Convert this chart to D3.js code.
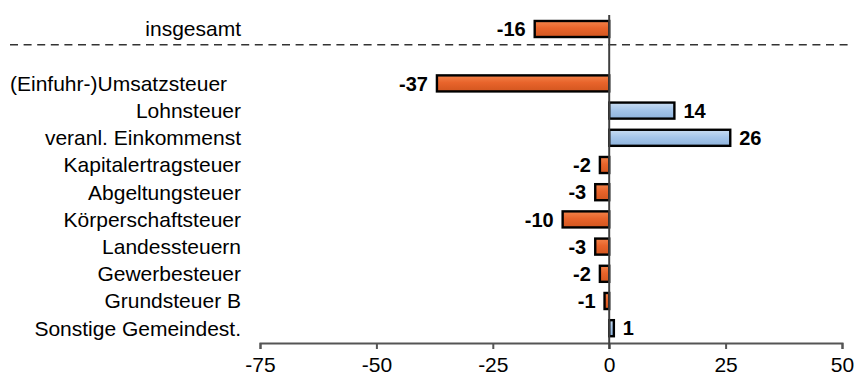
<!DOCTYPE html>
<html>
<head>
<meta charset="utf-8">
<script src="https://cdn.jsdelivr.net/npm/d3@7"></script>
<style>
  html, body { margin: 0; padding: 0; background: #fff; }
  svg { display: block; }
  text { font-family: "Liberation Sans", Arial, sans-serif; fill: #000; }
</style>
</head>
<body>
<svg id="chart" width="855" height="381"></svg>
<script>
// Veränderung gegenüber Vorjahr, nach Steuerarten
const totalCategory = "insgesamt";
const totalValue = -16;

const categories = [
  "(Einfuhr-)Umsatzsteuer",
  "Lohnsteuer",
  "veranl. Einkommenst",
  "Kapitalertragsteuer",
  "Abgeltungsteuer",
  "Körperschaftsteuer",
  "Landessteuern",
  "Gewerbesteuer",
  "Grundsteuer B",
  "Sonstige Gemeindest."
];
const values = [-37, 14, 26, -2, -3, -10, -3, -2, -1, 1];

const xTicks = [-75, -50, -25, 0, 25, 50];

const rows = [{ name: totalCategory, value: totalValue }]
  .concat(categories.map((c, i) => ({ name: c, value: values[i] })));

// plain hyphen-minus for negative numbers
const fmt = v => String(v);

const svg = d3.select("#chart");

// slot list: total row, an empty spacer slot, then the individual taxes
const slots = [totalCategory, "__gap__"].concat(categories);

const x = d3.scaleLinear().domain([-75, 50]).range([260, 842]);
const y = d3.scaleBand().domain(slots).range([15.4, 341.8]).paddingInner(0.41).paddingOuter(0.205);

const defs = svg.append("defs");
function grad(id, stops) {
  const g = defs.append("linearGradient").attr("id", id)
    .attr("x1", 0).attr("y1", 0).attr("x2", 0).attr("y2", 1);
  stops.forEach(([o, c]) => g.append("stop").attr("offset", o).attr("stop-color", c));
}
grad("gNeg", [[0, "#F3834A"], [0.45, "#E8642B"], [1, "#D2561F"]]);
grad("gPos", [[0, "#C9DDF2"], [0.45, "#A6C6EA"], [1, "#8EB3DC"]]);

// dashed separator below the total row
const sepY = y(totalCategory) + y.bandwidth() + y.step() * 0.28;
svg.append("line")
  .attr("x1", 10).attr("x2", 848)
  .attr("y1", sepY).attr("y2", sepY)
  .attr("stroke", "#333").attr("stroke-width", 1.5)
  .attr("stroke-dasharray", "8,5.6");

// bars
svg.append("g").selectAll("rect").data(rows).join("rect")
  .attr("x", d => x(Math.min(0, d.value)))
  .attr("width", d => Math.abs(x(d.value) - x(0)))
  .attr("y", d => y(d.name))
  .attr("height", y.bandwidth())
  .attr("fill", d => d.value < 0 ? "url(#gNeg)" : "url(#gPos)")
  .attr("stroke", "#000").attr("stroke-width", 2.4);

// category labels: right-aligned; a label too long for the label area starts at the left margin
const labelRight = 241, labelLeft = 10;
svg.append("g").selectAll("text").data(rows).join("text")
  .attr("y", d => y(d.name) + y.bandwidth() / 2)
  .attr("dy", "0.35em")
  .style("font-size", "21px")
  .text(d => d.name)
  .each(function () {
    const t = d3.select(this);
    const w = this.getComputedTextLength();
    if (w > 210) t.attr("x", labelLeft).attr("text-anchor", "start");
    else t.attr("x", labelRight).attr("text-anchor", "end");
  });

// value labels
svg.append("g").selectAll("text").data(rows).join("text")
  .attr("x", d => d.value < 0 ? x(d.value) - 9 : x(d.value) + 9)
  .attr("y", d => y(d.name) + y.bandwidth() / 2)
  .attr("dy", "0.36em")
  .attr("text-anchor", d => d.value < 0 ? "end" : "start")
  .style("font-size", "20px").style("font-weight", "bold")
  .text(d => fmt(d.value));

// x axis
const axisY = 343;
const axis = svg.append("g")
  .attr("transform", `translate(0,${axisY})`)
  .call(d3.axisBottom(x).tickValues(xTicks).tickSizeOuter(0).tickSize(6).tickPadding(8)
    .tickFormat(fmt));
axis.select(".domain").attr("stroke", "#555").attr("stroke-width", 2);
axis.selectAll(".tick line").attr("stroke", "#555").attr("stroke-width", 2);
axis.selectAll(".tick text")
  .style("font-family", "'Liberation Sans', Arial, sans-serif")
  .style("font-size", "21px").attr("fill", "#000");

// zero line
svg.append("line")
  .attr("x1", x(0)).attr("x2", x(0))
  .attr("y1", 15).attr("y2", axisY + 6)
  .attr("stroke", "#404040").attr("stroke-width", 2);
</script>
</body>
</html>
